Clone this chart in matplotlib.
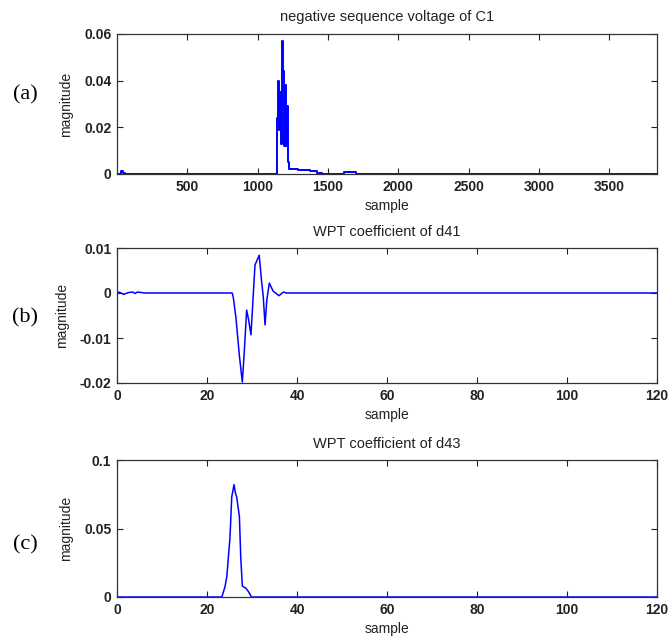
#!/usr/bin/env python3
"""Secuencia negativa de C1 y coeficientes WPT d41 / d43 (tres paneles)."""
import matplotlib
matplotlib.use('Agg')
import matplotlib.pyplot as plt

# (a) tensión de secuencia negativa de C1 (señal escalonada)
c1_sample = [0, 22, 30, 40, 55, 1140, 1148, 1155, 1160, 1166, 1172, 1182, 1190, 1196,
             1203, 1208, 1214, 1220, 1290, 1370, 1420, 1460, 1615, 1700, 3840]
c1_mag = [0.0002, 0.0002, 0.0012, 0.0006, 0.0002, 0.024, 0.040, 0.019, 0.035,
          0.013, 0.057, 0.044, 0.012, 0.038, 0.012, 0.029, 0.005, 0.0022,
          0.0017, 0.0012, 0.0006, 0.0002, 0.0007, 0.0002, 0.0002]

# (b) coeficiente WPT d41
d41_sample = [0, 0.5, 1.5, 2.5, 3.5, 4.0, 4.5, 5.5, 6.0, 25.6, 25.85, 26.44,
              27.18, 27.85, 28.29, 28.81, 29.26, 29.77, 30.66, 31.6, 32.1,
              32.5, 32.9, 33.3, 33.85, 34.7, 36.0, 36.96, 37.7, 120]
d41_mag = [0, 0.0002, -0.0003, 0.0001, 0.0002, -0.0001, 0.0002, 0.0001, 0,
           0, -0.001, -0.0056, -0.0138, -0.0198, -0.013, -0.0038, -0.006,
           -0.0093, 0.0062, 0.0084, 0.0029, -0.0008, -0.0071, -0.0015,
           0.0022, 0.0004, -0.0006, 0.0002, 0, 0]

# (c) coeficiente WPT d43
d43_sample = [0, 23.3, 24.0, 24.4, 25.1, 25.5, 26.0, 26.3, 26.6, 27.2, 27.5,
              27.85, 28.6, 29.2, 29.9, 120]
d43_mag = [0, 0, 0.0075, 0.0148, 0.043, 0.073, 0.082, 0.076, 0.073, 0.0586,
           0.029, 0.008, 0.0065, 0.004, 0, 0]

TITLES = ['negative sequence voltage of C1', 'WPT coefficient of d41',
          'WPT coefficient of d43']
PANELS = ['(a)', '(b)', '(c)']

plt.rcParams['font.family'] = ['Liberation Sans', 'DejaVu Sans']

fig = plt.figure(figsize=(6.7, 6.39), dpi=100)
W, H = 670, 639
boxes = [(34, 174), (248, 383), (460, 597)]  # (top, bottom) en píxeles
panel_y = [95, 318, 545]
axes = []
for top, bottom in boxes:
    ax = fig.add_axes([117 / W, 1 - bottom / H, 540 / W, (bottom - top) / H])
    axes.append(ax)

ax1, ax2, ax3 = axes
ax1.plot(c1_sample, c1_mag, color='#0000ff', lw=1.4, drawstyle='steps-post')
ax1.set_xlim(0, 3840)
ax1.set_ylim(0, 0.06)
ax1.set_xticks([500, 1000, 1500, 2000, 2500, 3000, 3500],
               ['500', '1000', '1500', '2000', '2500', '3000', '3500'], fontweight='bold')
ax1.set_yticks([0, 0.02, 0.04, 0.06], ['0', '0.02', '0.04', '0.06'], fontweight='bold')

ax2.plot(d41_sample, d41_mag, color='#0000ff', lw=1.1)
ax2.set_xlim(0, 120)
ax2.set_ylim(-0.02, 0.01)
ax2.set_yticks([-0.02, -0.01, 0, 0.01], ['-0.02', '-0.01', '0', '0.01'], fontweight='bold')

ax3.plot(d43_sample, d43_mag, color='#0000ff', lw=1.1)
ax3.set_xlim(0, 120)
ax3.set_ylim(0, 0.1)
ax3.set_yticks([0, 0.05, 0.1], ['0', '0.05', '0.1'], fontweight='bold')

for ax in (ax2, ax3):
    ax.set_xticks(range(0, 121, 20), [str(v) for v in range(0, 121, 20)], fontweight='bold')

for ax, title, panel, py in zip(axes, TITLES, PANELS, panel_y):
    ax.set_title(title, fontsize=10.5, pad=9, color='#222222')
    ax.set_xlabel('sample', fontsize=10, labelpad=4, color='#222222')
    ax.set_ylabel('magnitude', fontsize=10, labelpad=8, color='#222222')
    ax.tick_params(direction='in', length=4, width=0.8, top=True, right=True,
                   labelsize=10, pad=4, colors='#222222')
    for sp in ax.spines.values():
        sp.set_linewidth(0.9)
        sp.set_color('#333333')
    fig.text(25 / W, 1 - py / H, panel, fontsize=16,
             family='Liberation Serif', ha='center', va='center')

fig.savefig('out.png', dpi=100)
